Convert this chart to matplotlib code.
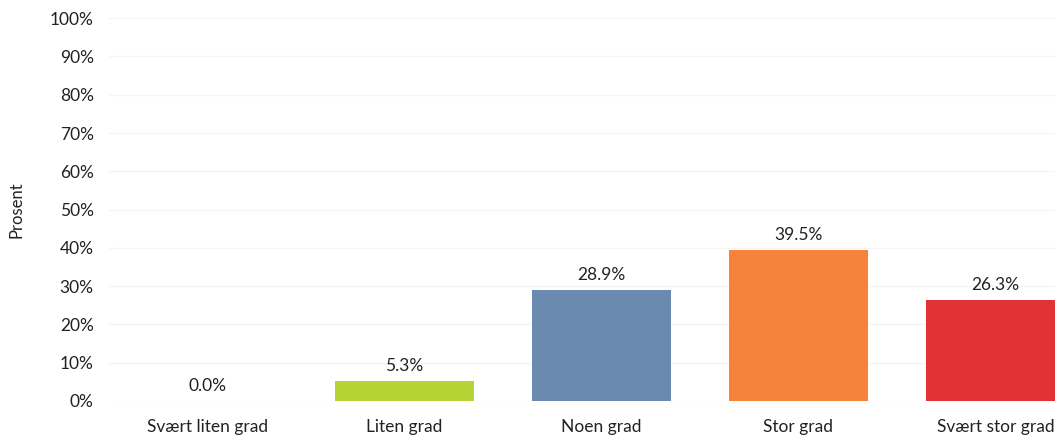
import matplotlib.pyplot as plt
from matplotlib.ticker import PercentFormatter

# Andel svar per kategori
kategorier = ['Svært liten grad', 'Liten grad', 'Noen grad', 'Stor grad', 'Svært stor grad']
prosent = [0.0, 5.3, 28.9, 39.5, 26.3]
farger = ['#b5d334', '#b5d334', '#6a8ab0', '#f7823a', '#e03237']

plt.rcParams['font.family'] = ['Lato', 'DejaVu Sans']

fig = plt.figure(figsize=(10.55, 4.36), dpi=100)
# siste søyle går ut over kanten, så aksen er bredere enn figuren
ax = fig.add_axes([0.1033, 0.0803, 0.9336, 0.878])

x = range(len(kategorier))
ax.bar(x, prosent, width=0.71, color=farger, zorder=2)

for xi, v in zip(x, prosent):
    ax.text(xi, v + 1.8, f'{v:.1f}%', ha='center', va='bottom', fontsize=12.5, color='#222222')

ax.set_xlim(-0.5, 4.5)
ax.set_ylim(0, 100)
ax.set_yticks(range(0, 101, 10))
ax.yaxis.set_major_formatter(PercentFormatter(decimals=0))
ax.set_xticks(list(x))
ax.set_xticklabels(kategorier)
ax.tick_params(axis='both', length=0, labelsize=12.5, colors='#222222')
ax.tick_params(axis='x', pad=13)
ax.tick_params(axis='y', pad=11)
ax.set_ylabel('Prosent', fontsize=12, color='#222222', labelpad=18)

ax.grid(axis='y', color='#f5f5f5', linewidth=1, zorder=0)
for s in ax.spines.values():
    s.set_visible(False)

fig.savefig('out.png', dpi=100)
